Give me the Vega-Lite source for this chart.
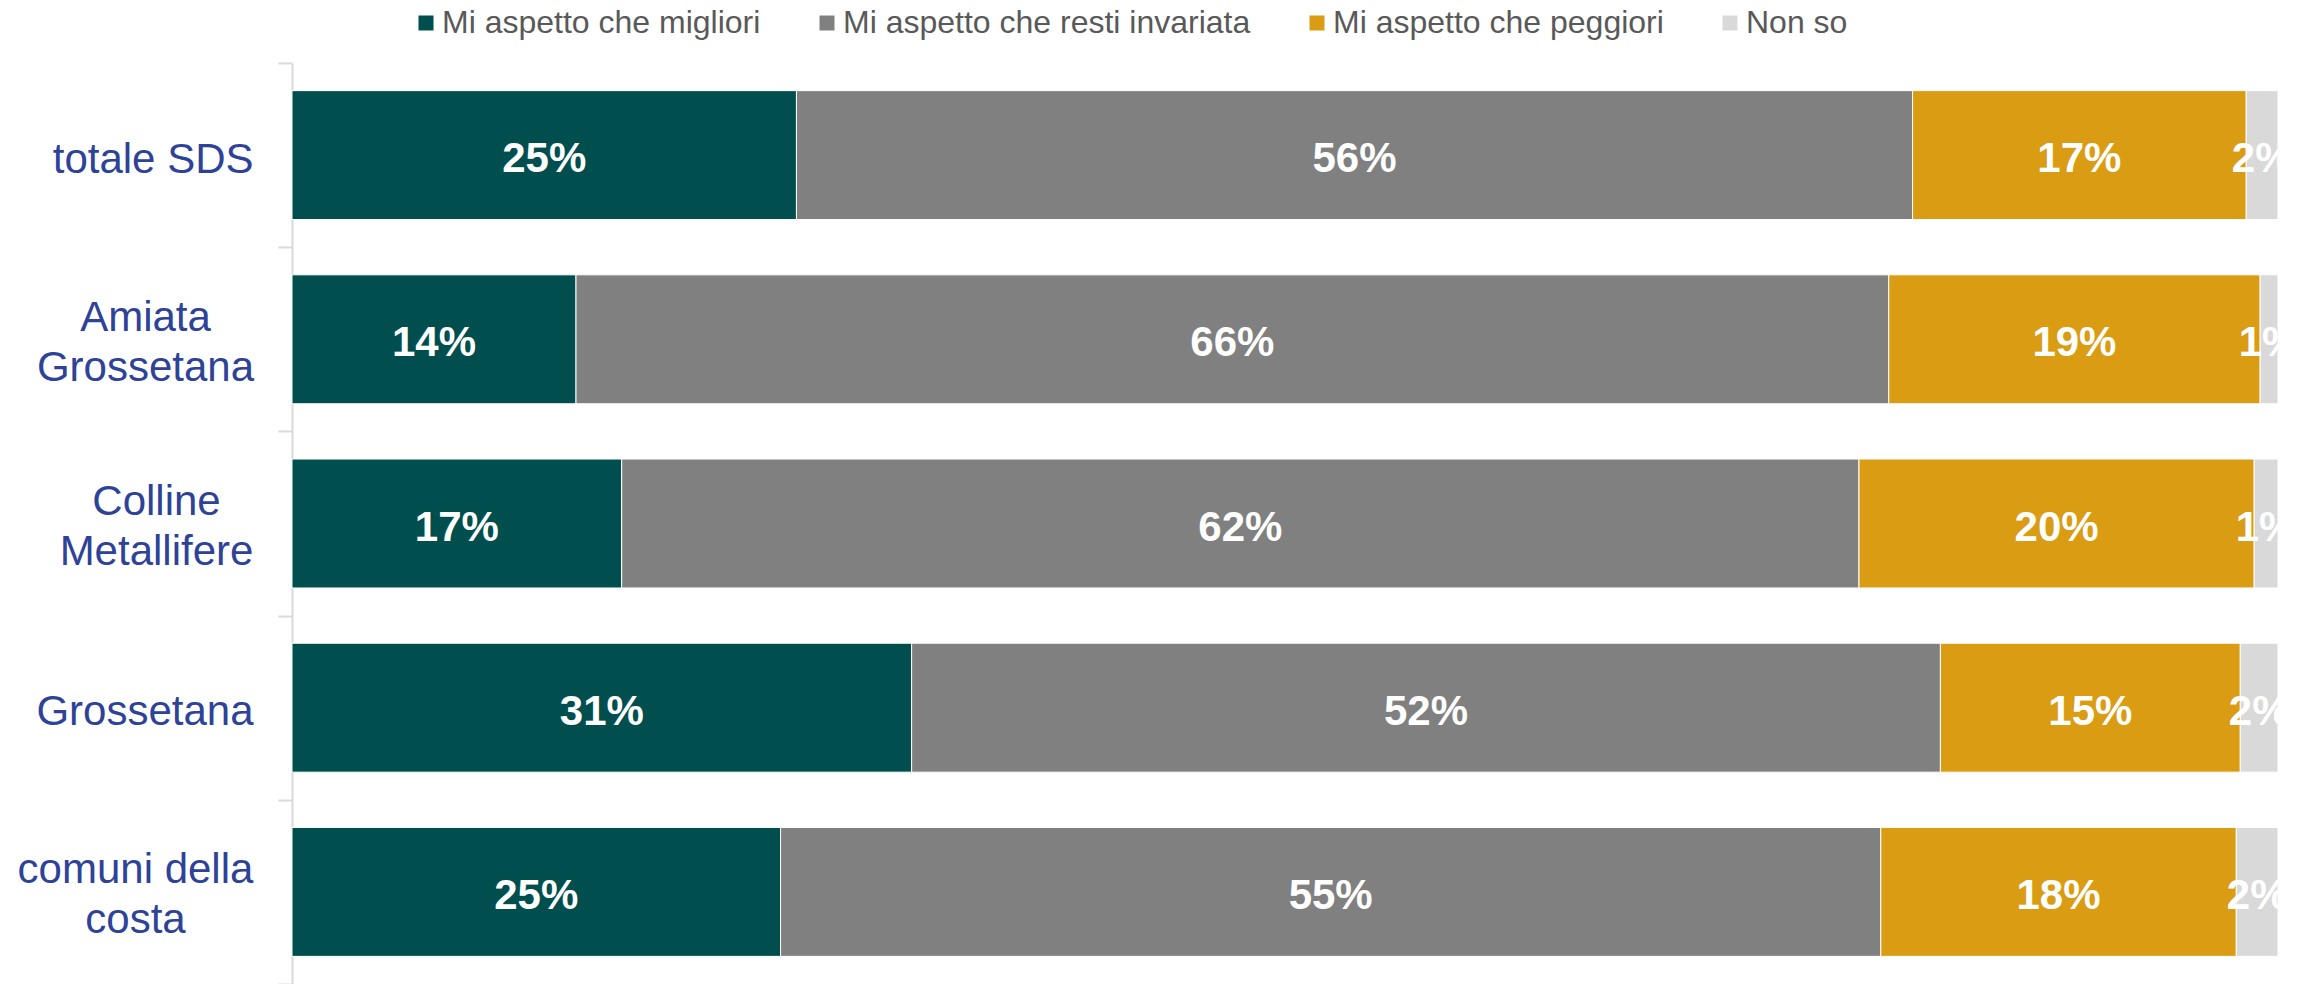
{
  "$schema": "https://vega.github.io/schema/vega-lite/v6.json",
  "width": 1986,
  "height": 921,
  "autosize": {"type": "none"},
  "padding": {"left": 292, "top": 63, "right": 24, "bottom": 0},
  "background": "white",
  "config": {"view": {"stroke": null}, "font": "Liberation Sans"},
  "data": {
    "values": [
      {"area": "totale SDS", "cat": "Mi aspetto che migliori", "k": 1, "v": 0.254},
      {"area": "totale SDS", "cat": "Mi aspetto che resti invariata", "k": 2, "v": 0.562},
      {"area": "totale SDS", "cat": "Mi aspetto che peggiori", "k": 3, "v": 0.168},
      {"area": "totale SDS", "cat": "Non so", "k": 4, "v": 0.016},
      {"area": "Amiata Grossetana", "cat": "Mi aspetto che migliori", "k": 1, "v": 0.143},
      {"area": "Amiata Grossetana", "cat": "Mi aspetto che resti invariata", "k": 2, "v": 0.661},
      {"area": "Amiata Grossetana", "cat": "Mi aspetto che peggiori", "k": 3, "v": 0.187},
      {"area": "Amiata Grossetana", "cat": "Non so", "k": 4, "v": 0.009},
      {"area": "Colline Metallifere", "cat": "Mi aspetto che migliori", "k": 1, "v": 0.166},
      {"area": "Colline Metallifere", "cat": "Mi aspetto che resti invariata", "k": 2, "v": 0.623},
      {"area": "Colline Metallifere", "cat": "Mi aspetto che peggiori", "k": 3, "v": 0.199},
      {"area": "Colline Metallifere", "cat": "Non so", "k": 4, "v": 0.012},
      {"area": "Grossetana", "cat": "Mi aspetto che migliori", "k": 1, "v": 0.312},
      {"area": "Grossetana", "cat": "Mi aspetto che resti invariata", "k": 2, "v": 0.518},
      {"area": "Grossetana", "cat": "Mi aspetto che peggiori", "k": 3, "v": 0.151},
      {"area": "Grossetana", "cat": "Non so", "k": 4, "v": 0.019},
      {"area": "comuni della costa", "cat": "Mi aspetto che migliori", "k": 1, "v": 0.246},
      {"area": "comuni della costa", "cat": "Mi aspetto che resti invariata", "k": 2, "v": 0.554},
      {"area": "comuni della costa", "cat": "Mi aspetto che peggiori", "k": 3, "v": 0.179},
      {"area": "comuni della costa", "cat": "Non so", "k": 4, "v": 0.021}
    ]
  },
  "encoding": {
    "y": {
      "field": "area",
      "type": "nominal",
      "sort": null,
      "scale": {"paddingInner": 0, "paddingOuter": 0},
      "axis": {
        "title": null,
        "domainColor": "#D9D9D9",
        "domainWidth": 2,
        "tickColor": "#D9D9D9",
        "tickWidth": 2,
        "tickSize": 14,
        "tickBand": "extent",
        "labelFontSize": 42,
        "labelColor": "#2E4298",
        "labelLineHeight": 50,
        "labelLimit": 500,
        "labelExpr": "datum.value == 'Amiata Grossetana' ? ['Amiata','Grossetana'] : datum.value == 'Colline Metallifere' ? ['Colline','Metallifere'] : datum.value == 'comuni della costa' ? ['comuni della','costa'] : datum.label",
        "labelAlign": {
          "condition": {"test": "indexof(['Amiata Grossetana','Colline Metallifere','comuni della costa'], datum.value) >= 0", "value": "center"},
          "value": "right"
        },
        "labelPadding": {
          "condition": [
            {"test": "datum.value == 'Amiata Grossetana'", "value": 133},
            {"test": "datum.value == 'Colline Metallifere'", "value": 122},
            {"test": "datum.value == 'comuni della costa'", "value": 143}
          ],
          "value": 25
        },
        "labelOffset": {
          "condition": {"test": "indexof(['Amiata Grossetana','Colline Metallifere','comuni della costa'], datum.value) >= 0", "value": -22},
          "value": 4
        }
      }
    }
  },
  "layer": [
    {
      "mark": {"type": "bar", "stroke": "white", "strokeWidth": 1, "height": {"band": 0.7}},
      "encoding": {
        "x": {"field": "v", "type": "quantitative", "stack": "zero", "scale": {"domain": [0, 1]}, "axis": null},
        "color": {
          "field": "cat",
          "type": "nominal",
          "scale": {
            "domain": ["Mi aspetto che migliori", "Mi aspetto che resti invariata", "Mi aspetto che peggiori", "Non so"],
            "range": ["#004E4E", "#808080", "#DA9C12", "#D9D9D9"]
          },
          "legend": {
            "title": null,
            "orient": "none",
            "legendX": 118,
            "legendY": -56,
            "direction": "horizontal",
            "columns": 4,
            "symbolType": "square",
            "symbolSize": 225,
            "symbolStrokeWidth": 0,
            "labelFontSize": 32,
            "labelColor": "#595959",
            "labelLimit": 600,
            "labelOffset": 0,
            "columnPadding": 50
          }
        },
        "order": {"field": "k"}
      }
    },
    {
      "mark": {"type": "text", "color": "white", "fontWeight": "bold", "fontSize": 42, "clip": true, "dy": 4},
      "encoding": {
        "x": {"field": "v", "type": "quantitative", "stack": "zero", "bandPosition": 0.5},
        "detail": {"field": "cat"},
        "order": {"field": "k"},
        "text": {"field": "v", "type": "quantitative", "format": ".0%"}
      }
    }
  ]
}
